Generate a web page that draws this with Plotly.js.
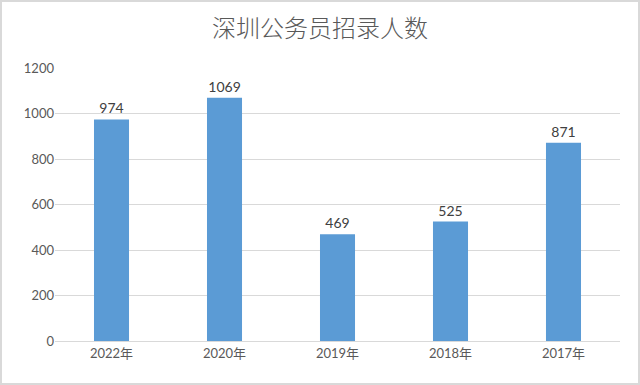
<!DOCTYPE html>
<html><head><meta charset="utf-8">
<script src="https://cdn.plot.ly/plotly-3.0.1.min.js"></script>
<style>html,body{margin:0;padding:0;background:#fff;}#chart{width:640px;height:385px;}</style>
</head><body><div id="chart"></div>
<script>
const categories = ["2022年", "2020年", "2019年", "2018年", "2017年"];
const values = [974, 1069, 469, 525, 871];
const yTicks = [0, 200, 400, 600, 800, 1000, 1200];

const fontFam = "Lato, 'Noto Sans CJK SC', sans-serif";
Plotly.newPlot('chart', [{
  type: 'bar',
  x: categories,
  y: values,
  marker: {color: '#5b9bd5'},
  text: values.map(String),
  textposition: 'outside',
  cliponaxis: false,
  textfont: {family: fontFam, size: 14, color: '#404040'},
  hoverinfo: 'none'
}], {
  width: 640, height: 385,
  margin: {l: 55, r: 20, t: 68, b: 44},
  paper_bgcolor: '#fff', plot_bgcolor: '#fff',
  bargap: 0.69,
  title: {text: '深圳公务员招录人数', x: 0.5, xanchor: 'center', y: 0.927, yanchor: 'middle',
          font: {family: "'Noto Sans CJK SC', sans-serif", size: 24, weight: 300, color: '#595959'}},
  xaxis: {type: 'category', showgrid: false, showline: true, linecolor: '#d9d9d9', linewidth: 1,
          ticks: '', tickfont: {family: fontFam, size: 13, color: '#595959'}},
  yaxis: {range: [0, 1200], tickvals: yTicks, ticktext: yTicks.map(String),
          showgrid: true, gridcolor: '#d9d9d9', gridwidth: 1, zeroline: false, showline: false,
          ticks: '', ticklen: 0, tickfont: {family: fontFam, size: 13, color: '#595959'}},
  showlegend: false
}, {displayModeBar: false, staticPlot: true});
</script>
<div style="position:absolute;left:0;top:0;width:636px;height:381px;border:2px solid #d9d9d9;pointer-events:none;"></div>
</body></html>
